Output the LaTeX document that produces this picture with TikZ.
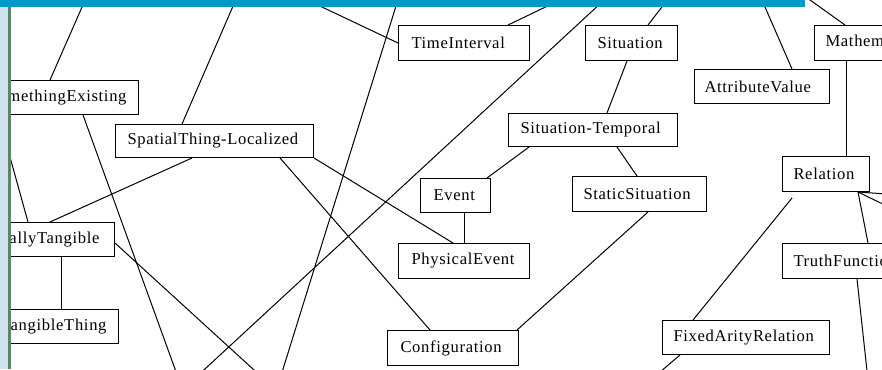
\documentclass[tikz,border=0pt]{standalone}
\usepackage{fontspec}
\newfontfamily\diagfont[LetterSpace=4]{Liberation Serif}
\definecolor{barblue}{RGB}{0,153,204}
\definecolor{stripblue}{RGB}{208,224,238}
\definecolor{stripgreen}{RGB}{90,135,105}
\pgfdeclarelayer{links}
\pgfsetlayers{links,main}
\begin{document}
\begin{tikzpicture}[x=1pt,y=-1pt,
  box/.style={draw=black, fill=white, line width=1pt, inner xsep=13pt, inner ysep=0pt,
    anchor=north west, align=left, font=\diagfont\fontsize{16.6}{19}\selectfont},
  boxr/.style={box, anchor=north east, align=right, inner xsep=12pt},
  link/.style={draw=black, line width=1pt}]
\useasboundingbox (0,0) rectangle (882,369);
\clip (0,0) rectangle (882,369);

% concept boxes
\node[boxr, text width=200pt, minimum height=34pt] (se) at (139,80) {SomethingExisting};
\node[box, text width=174pt, minimum height=33pt, inner xsep=12pt] (stl) at (115,124) {SpatialThing-Localized};
\node[box, text width=105pt, minimum height=35pt] (ti) at (398,25) {TimeInterval};
\node[box, text width=68pt, minimum height=35pt, inner xsep=12pt] (sit) at (585,25) {Situation};
\node[box, text width=300pt, minimum height=35pt, inner xsep=11pt] (math) at (814,25) {MathematicalOrComputationalThing};
\node[box, text width=115pt, minimum height=34pt, inner xsep=10pt] (av) at (694,69) {AttributeValue};
\node[box, text width=145pt, minimum height=33pt, inner xsep=12pt] (st) at (508,113) {Situation-Temporal};
\node[box, text width=44pt, minimum height=34pt] (ev) at (420,178) {Event};
\node[box, text width=112pt, minimum height=35pt, inner xsep=11pt] (ss) at (572,176) {StaticSituation};
\node[box, text width=105pt, minimum height=35pt] (pe) at (398,243) {PhysicalEvent};
\node[box, text width=105pt, minimum height=35pt] (conf) at (387,330) {Configuration};
\node[box, text width=65pt, minimum height=35pt, inner xsep=11pt] (rel) at (782,156) {Relation};
\node[box, text width=300pt, minimum height=35pt, inner xsep=11pt] (tf) at (782,243) {TruthFunction};
\node[box, text width=145pt, minimum height=34pt, inner xsep=11pt] (far) at (662,320) {FixedArityRelation};
\node[boxr, text width=200pt, minimum height=34pt, inner xsep=15pt] (pt) at (115,222) {PartiallyTangible};
\node[boxr, text width=200pt, minimum height=34pt] (tt) at (119,309) {TangibleThing};

% loose ends of links leaving the visible area
\coordinate (uA) at (89.5,-10);
\coordinate (uB) at (240,-10);
\coordinate (uC) at (286,-10);
\coordinate (uD) at (401,-10);
\coordinate (dD) at (279.6,380);
\coordinate (uE) at (581,-10);
\coordinate (uF) at (615,-10);
\coordinate (dF) at (193,380);
\coordinate (uG) at (675,-10);
\coordinate (uI) at (757.6,-10);
\coordinate (uJ) at (796,-10);
\coordinate (lR) at (-5,103);
\coordinate (dS) at (179,380);
\coordinate (dT) at (265,380);
\coordinate (relgap) at (792,198);
\coordinate (dZ) at (650.6,380);
\coordinate (rA) at (895,194.6);
\coordinate (rB) at (895,210);
\coordinate (dBB) at (868,380);

\begin{pgfonlayer}{links}
\draw[link] (se.north -| 50,0) -- (uA);
\draw[link] (stl.north -| 182,0) -- (uB);
\draw[link] (ti.west) -- (uC);
\draw[link] (uD) -- (dD);
\draw[link] (ti.north -| 508,0) -- (uE);
\draw[link] (uF) -- (dF);
\draw[link] (sit.north -| 648,0) -- (uG);
\draw[link] (av.north -| 792,0) -- (uI);
\draw[link] (math.north -| 845,0) -- (uJ);
\draw[link] (math.south -| 846,0) -- (rel.north -| 846,0);
\draw[link] (sit.south -| 627,0) -- (st.north -| 607,0);
\draw[link] (st.south -| 617,0) -- (ss.north -| 637,0);
\draw[link] (st.south -| 529,0) -- (ev.north -| 487,0);
\draw[link] (ev.south -| 464,0) -- (pe.north -| 464,0);
\draw[link] (stl.south east) -- (pe.north -| 453,0);
\draw[link] (stl.south -| 280,0) -- (conf.north -| 430,0);
\draw[link] (stl.south -| 192,0) -- (pt.north -| 50,0);
\draw[link] (lR) -- (pt.north -| 28,0);
\draw[link] (se.south -| 83,0) -- (dS);
\draw[link] (pt.east |- 0,243) -- (dT);
\draw[link] (pt.south -| 61,0) -- (tt.north -| 61,0);
\draw[link] (conf.north -| 517,0) -- (ss.south -| 648,0);
\draw[link] (relgap) -- (far.north -| 693,0);
\draw[link] (far.south -| 680,0) -- (dZ);
\draw[link] (tf.north -| 868,0) -- (rel.south -| 858,0);
\draw[link] (rel.south -| 858,0) -- (rA);
\draw[link] (rel.south -| 858,0) -- (rB);
\draw[link] (tf.south -| 857,0) -- (dBB);
\end{pgfonlayer}

% page frame: side strip and top bar
\fill[stripblue] (0,7) rectangle (8,369);
\fill[stripgreen] (8,7) rectangle (11,369);
\fill[barblue] (0,0) rectangle (805,7);
\end{tikzpicture}
\end{document}
